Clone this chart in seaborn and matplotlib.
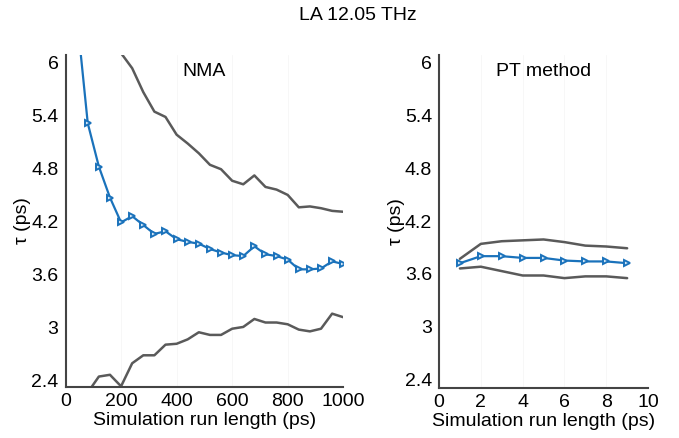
import numpy as np
import pandas as pd
import seaborn as sns
import matplotlib
matplotlib.use('Agg')
import matplotlib.pyplot as plt

# NMA panel: run length (ps) vs tau (ps)
nma_len = [40, 80, 120, 160, 200, 240, 280, 320, 360, 400, 440, 480, 520, 560,
           600, 640, 680, 720, 760, 800, 840, 880, 920, 960, 1000]
nma_tau = [6.55, 5.31, 4.82, 4.47, 4.19, 4.26, 4.16, 4.06, 4.09, 4.00, 3.97, 3.95,
           3.89, 3.85, 3.82, 3.81, 3.92, 3.83, 3.81, 3.77, 3.66, 3.66, 3.67, 3.75, 3.72]

nma_up_len = [200, 240, 280, 320, 360, 400, 440, 480, 520, 560, 600, 640, 680,
              720, 760, 800, 840, 880, 920, 960, 1000]
nma_up = [6.10, 5.93, 5.66, 5.44, 5.38, 5.18, 5.08, 4.97, 4.84, 4.79, 4.66, 4.62,
          4.72, 4.59, 4.56, 4.50, 4.36, 4.37, 4.35, 4.32, 4.31]

nma_lo_len = [80, 120, 160, 200, 240, 280, 320, 360, 400, 440, 480, 520, 560,
              600, 640, 680, 720, 760, 800, 840, 880, 920, 960, 1000]
nma_lo = [2.27, 2.45, 2.47, 2.34, 2.60, 2.69, 2.69, 2.81, 2.82, 2.87, 2.95, 2.92,
          2.92, 2.99, 3.01, 3.10, 3.06, 3.06, 3.04, 2.98, 2.96, 2.99, 3.16, 3.12]

# PT method panel
pt_len = [1, 2, 3, 4, 5, 6, 7, 8, 9]
pt_tau = [3.72, 3.80, 3.80, 3.78, 3.78, 3.75, 3.74, 3.74, 3.72]
pt_up = [3.77, 3.94, 3.97, 3.98, 3.99, 3.96, 3.92, 3.91, 3.89]
pt_lo = [3.66, 3.68, 3.63, 3.58, 3.58, 3.55, 3.57, 3.57, 3.55]

y_ticks = [2.4, 3, 3.6, 4.2, 4.8, 5.4, 6]
y_labels = ['2.4', '3', '3.6', '4.2', '4.8', '5.4', '6']

BLUE = '#1a72bb'
GRAY = '#5a5a5a'
AXC = '#444444'

sns.set_style('white')
plt.rcParams['font.family'] = ['Liberation Sans', 'DejaVu Sans']
plt.rcParams['font.size'] = 14
plt.rcParams['text.color'] = 'black'
plt.rcParams['axes.labelcolor'] = 'black'
plt.rcParams['xtick.labelcolor'] = 'black'
plt.rcParams['ytick.labelcolor'] = 'black'

fig = plt.figure(figsize=(6.79, 4.38), dpi=100)
ax1 = fig.add_axes([0.0965, 0.1164, 0.409, 0.758])
ax2 = fig.add_axes([0.6466, 0.1142, 0.3078, 0.760])


def draw(ax, xs, mid, xs_up, up, xs_lo, lo, xlim, ylim, xticks, name):
    # very faint vertical grid, as in the original
    for ix in xticks[1:]:
        ax.axvline(ix, color='#f7f7f7', lw=0.7, zorder=0)
    sns.lineplot(x=xs_up, y=up, ax=ax, color=GRAY, lw=1.8)
    sns.lineplot(x=xs_lo, y=lo, ax=ax, color=GRAY, lw=1.8)
    sns.lineplot(x=xs, y=mid, ax=ax, color=BLUE, lw=1.6, marker='>',
                 markersize=4.5, markerfacecolor='#d5e7f6', markeredgecolor=BLUE,
                 markeredgewidth=1.4)
    ax.set_xlim(*xlim)
    ax.set_ylim(*ylim)
    ax.set_xticks(xticks)
    ax.set_yticks(y_ticks)
    ax.set_yticklabels(y_labels)
    for s in ['top', 'right']:
        ax.spines[s].set_visible(False)
    for s in ['left', 'bottom']:
        ax.spines[s].set_color(AXC)
        ax.spines[s].set_linewidth(1.5)
    ax.tick_params(axis='y', direction='out', length=3, width=1, color=AXC,
                   pad=2, labelsize=14)
    ax.tick_params(axis='x', direction='in', length=3, width=1, color=AXC,
                   pad=4, labelsize=14)
    ax.set_xlabel('Simulation run length (ps)', fontsize=14, labelpad=2)
    ax.set_ylabel('τ (ps)', fontsize=14, labelpad=0)
    ax.text(0.5, 0.95, name, transform=ax.transAxes, ha='center', va='center',
            fontsize=14)


draw(ax1, nma_len, nma_tau, nma_up_len, nma_up, nma_lo_len, nma_lo,
     (0, 1000), (2.332, 6.079), [0, 200, 400, 600, 800, 1000], 'NMA')
draw(ax2, pt_len, pt_tau, pt_len, pt_up, pt_len, pt_lo,
     (0, 10), (2.30, 6.088), [0, 2, 4, 6, 8, 10], 'PT method')

fig.text(0.527, 0.965, 'LA 12.05 THz', ha='center', va='center', fontsize=14)

fig.savefig('out.png', dpi=100)
